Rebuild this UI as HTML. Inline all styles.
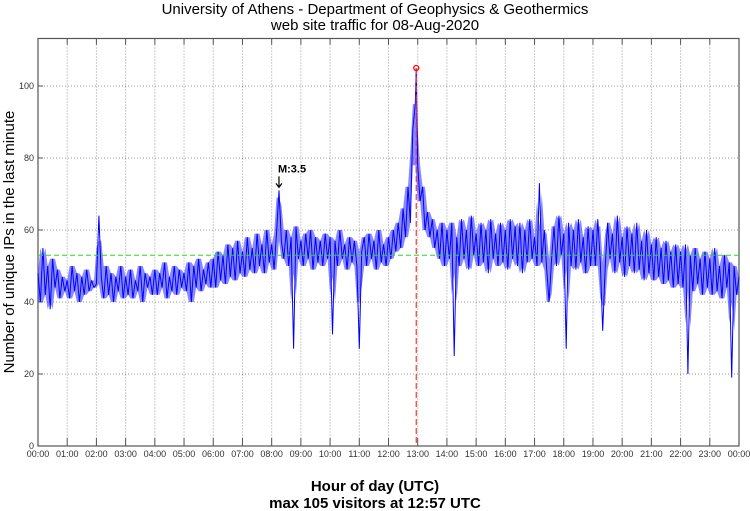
<!DOCTYPE html>
<html><head><meta charset="utf-8"><style>
body{margin:0;background:#fff;font-family:"Liberation Sans",sans-serif}
svg{display:block}
</style></head><body>
<svg id="c" width="750" height="511" xmlns="http://www.w3.org/2000/svg">
<text x="375" y="14" text-anchor="middle" font-size="15">University of Athens - Department of Geophysics &amp; Geothermics</text>
<text x="375" y="30" text-anchor="middle" font-size="15">web site traffic for 08-Aug-2020</text>
<text x="375" y="491" text-anchor="middle" font-size="15" font-weight="bold">Hour of day (UTC)</text>
<text x="375" y="508" text-anchor="middle" font-size="15" font-weight="bold">max 105 visitors at 12:57 UTC</text>
<text transform="translate(14,242) rotate(-90)" text-anchor="middle" font-size="15">Number of unique IPs in the last minute</text>
<g id="grid"></g><g id="axes"></g><g id="series"></g><g id="marks"></g>
</svg>
<script>
const yTicks=[0,20,40,60,80,100];
const xTickHours=[0,1,2,3,4,5,6,7,8,9,10,11,12,13,14,15,16,17,18,19,20,21,22,23,24];
const stepMinutes=5;
const visitors=[
48,40,55,42,50,38,52,44,49,41,47,43,
46,41,50,43,48,40,47,42,49,43,46,44,
45,64,47,41,50,42,48,40,47,43,50,41,
47,42,49,41,46,43,50,40,48,44,47,42,
49,42,48,44,51,41,47,43,50,42,49,44,
48,43,51,40,50,44,52,43,49,45,51,44,
52,44,54,46,53,45,56,47,55,46,57,48,
54,47,58,49,55,48,59,50,56,48,60,51,
56,49,59,71,57,52,60,50,58,27,61,52,
57,50,59,52,60,49,58,51,57,50,59,52,
58,31,57,50,60,52,56,49,58,51,57,50,
27,54,58,50,59,52,57,49,60,51,56,50,
58,52,60,54,62,55,66,58,72,62,88,95,
78,68,72,60,65,58,63,55,60,52,62,50,
60,52,62,25,58,50,63,52,60,49,64,53,
59,50,62,51,60,48,63,52,59,50,62,51,
60,49,63,52,61,50,62,48,60,51,63,52,
58,50,73,51,60,49,40,52,61,50,64,53,
59,27,62,50,60,49,63,51,58,48,61,50,
60,50,63,51,32,49,62,52,59,48,64,51,
58,47,61,50,59,48,62,49,57,46,60,48,
56,46,58,47,55,45,57,46,54,44,56,45,
54,44,56,20,53,43,55,45,52,42,54,44,
52,42,55,43,50,41,53,44,51,19,50,42,
47];
const peakMinute=777, peakValue=105;
const meanValue=53;
const quakeMinute=495, quakeValue=71, quakeLabel="M:3.5";

const L=38,R=739,T=38.5,B=446,YMAX=113.2;
const X=m=>L+(R-L)*m/1440;
const Y=v=>B-(B-T)*v/YMAX;
const NS="http://www.w3.org/2000/svg";
function mk(tag,attrs,parent){const e=document.createElementNS(NS,tag);for(const k in attrs)e.setAttribute(k,attrs[k]);document.getElementById(parent).appendChild(e);return e;}

yTicks.forEach(v=>{
  if(v>0){const g=mk('line',{x1:L,x2:R,y1:Y(v),y2:Y(v),stroke:'#999','stroke-dasharray':'1,2','stroke-width':1},'grid');
  
  }
  const t=mk('text',{x:L-4,y:Y(v)+3,'text-anchor':'end','font-size':9,fill:'#333'},'axes');t.textContent=v;
  
  
  const tk=mk('line',{x1:L,x2:L+5,y1:Y(v),y2:Y(v),stroke:'#555'},'axes');
  
  
});
xTickHours.forEach(h=>{
  const x=X(h*60);
  if(h>0&&h<24){const g=mk('line',{x1:x,x2:x,y1:T,y2:B,stroke:'#999','stroke-dasharray':'1,2'},'grid');
  
  
  const tk=mk('line',{x1:x,x2:x,y1:B,y2:B-8,stroke:'#555'},'axes');
  
  
  const tk2=mk('line',{x1:x,x2:x,y1:T,y2:T+6,stroke:'#555'},'axes');
  
  }
  const t=mk('text',{x:x,y:B+11,'text-anchor':'middle','font-size':9,fill:'#333'},'axes');
  t.textContent=String(h%24).padStart(2,'0')+':00';
  
  
});
const frame=mk('rect',{x:L,y:T,width:R-L,height:B-T,fill:'none',stroke:'#555','stroke-width':1.2},'axes');



const mean=mk('line',{x1:L,x2:R,y1:Y(meanValue),y2:Y(meanValue),stroke:'#22dd22','stroke-dasharray':'5,3','stroke-width':1},'marks');



// noise envelope band derived from the series (window min/max clipped to median±10)
const up=[],lo=[];
visitors.forEach((v,i)=>{
  const w=visitors.slice(Math.max(0,i-1),Math.min(visitors.length,i+2)).slice().sort((a,b)=>a-b);
  const med=w[Math.floor(w.length/2)];
  up.push([i*stepMinutes,Math.min(w[w.length-1],med+10)]);
  lo.push([i*stepMinutes,Math.max(w[0],med-10)]);
});
const bandPts=up.concat(lo.slice().reverse()).map(p=>X(p[0]).toFixed(1)+','+Y(p[1]).toFixed(1)).join(' ');
const band=mk('polygon',{points:bandPts,fill:'#4848ff','fill-opacity':0.65,stroke:'none'},'series');



const pts=visitors.map((v,i)=>[i*stepMinutes,v]);
pts.push([peakMinute,peakValue]);
pts.sort((a,b)=>a[0]-b[0]);
const line=mk('polyline',{points:pts.map(p=>X(p[0]).toFixed(1)+','+Y(p[1]).toFixed(1)).join(' '),fill:'none',stroke:'#0000ff','stroke-width':1,'stroke-linejoin':'bevel'},'series');



const vl=mk('line',{x1:X(peakMinute),x2:X(peakMinute),y1:Y(peakValue),y2:B,stroke:'#ff3333','stroke-dasharray':'6,3','stroke-width':1.2},'marks');


const pc=mk('circle',{cx:X(peakMinute),cy:Y(peakValue),r:2.5,fill:'none',stroke:'#ff0000','stroke-width':1.3},'marks');



const qx=X(quakeMinute),qy=Y(quakeValue);
const ar=mk('path',{d:`M${qx},${qy-14} L${qx},${qy-3} M${qx-3},${qy-7} L${qx},${qy-3} L${qx+3},${qy-7}`,stroke:'#000',fill:'none','stroke-width':1.2},'marks');


const ql=mk('text',{x:qx-1,y:qy-18,'font-size':11,'font-weight':'bold'},'marks');ql.textContent=quakeLabel;


</script>
</body></html>
